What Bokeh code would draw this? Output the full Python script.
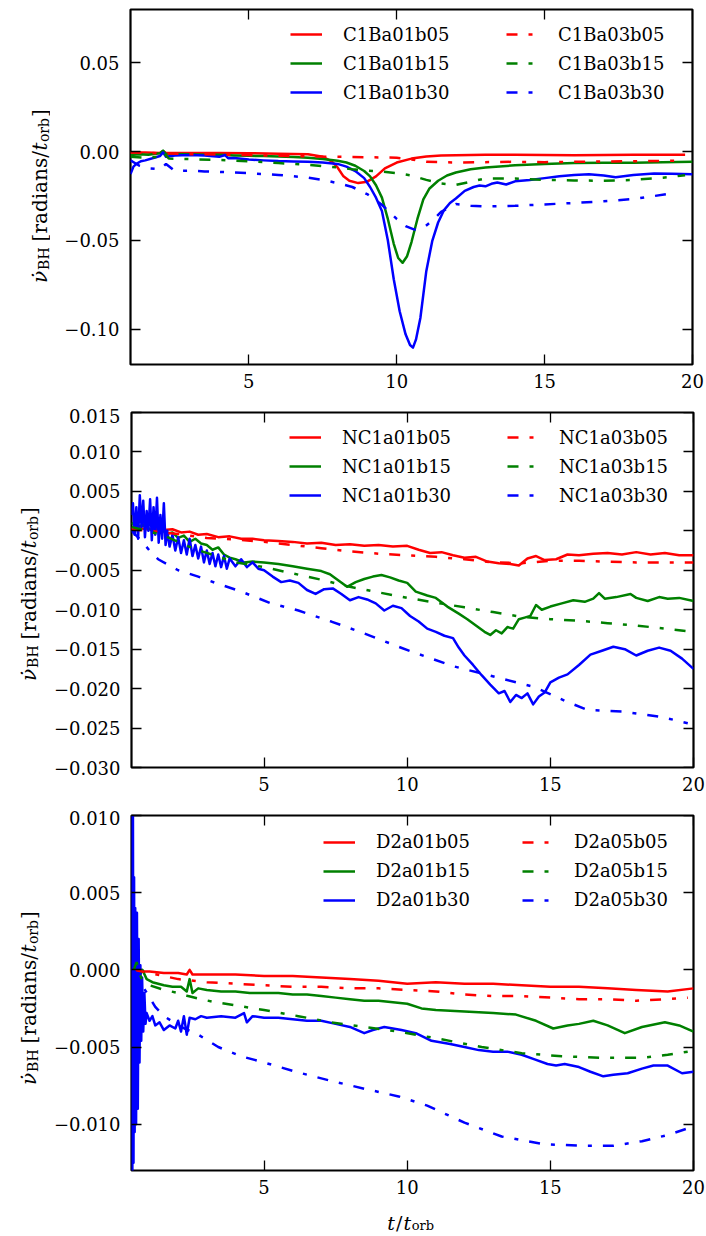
import math
from bokeh.plotting import figure
from bokeh.models import (Range1d, FixedTicker, CustomJSTickFormatter, LinearAxis,
                          Legend, LegendItem)
from bokeh.layouts import column, row
from bokeh.embed import file_html
from bokeh.resources import INLINE
from bokeh.core.properties import value

FONT = "DejaVu Serif"
RED, GREEN, BLUE = "#ff0000", "#008000", "#0000ff"
DASHDOT = "11 11 4 11"

# ---------------------------------------------------------------- data
X_TICKS = [5, 10, 15, 20]
P1_YTICKS = [-0.10, -0.05, 0.00, 0.05]
P2_YTICKS = [-0.030, -0.025, -0.020, -0.015, -0.010, -0.005, 0.000, 0.005, 0.010, 0.015]
P3_YTICKS = [-0.010, -0.005, 0.000, 0.005, 0.010]

# panel 1 : (t/t_orb, rate)
C1Ba01b05 = [(1.0, -0.0005), (1.5, -0.0006), (2.0, -0.0008), (2.1, 0.0002), (2.2, -0.0009),
             (3.0, -0.0008), (4.0, -0.0009), (5.0, -0.0010), (6.0, -0.0012), (7.0, -0.0016),
             (7.5, -0.0030), (7.8, -0.0055), (8.0, -0.0090), (8.2, -0.0140), (8.4, -0.0165),
             (8.7, -0.0178), (9.0, -0.0170), (9.3, -0.0140), (9.6, -0.0095), (10.0, -0.0062),
             (10.5, -0.0040), (11.0, -0.0028), (11.5, -0.0023), (12.0, -0.0021), (13.0, -0.0018),
             (14.0, -0.0019), (15.0, -0.0020), (16.0, -0.0021), (17.0, -0.0020), (18.0, -0.0019),
             (19.0, -0.0018), (19.75, -0.0018)]
C1Ba01b15 = [(1.0, -0.0020), (1.3, -0.0015), (1.6, -0.0018), (2.0, -0.0010), (2.1, 0.0005),
             (2.2, -0.0015), (2.5, -0.0014), (3.0, -0.0016), (3.5, -0.0018), (4.0, -0.0019),
             (4.5, -0.0022), (5.0, -0.0024), (5.5, -0.0026), (6.0, -0.0028), (6.5, -0.0031),
             (7.0, -0.0035), (7.5, -0.0042), (8.0, -0.0052), (8.3, -0.0062), (8.6, -0.0080),
             (8.9, -0.0110), (9.1, -0.0140), (9.3, -0.0190), (9.5, -0.0260), (9.7, -0.0380),
             (9.9, -0.0520), (10.05, -0.0600), (10.2, -0.0627), (10.35, -0.0590), (10.5, -0.0510),
             (10.7, -0.0380), (10.9, -0.0270), (11.1, -0.0210), (11.4, -0.0165), (11.7, -0.0135),
             (12.0, -0.0118), (12.5, -0.0100), (13.0, -0.0090), (14.0, -0.0078), (15.0, -0.0070),
             (16.0, -0.0065), (17.0, -0.0064), (18.0, -0.0063), (19.0, -0.0061), (20.0, -0.0058)]
C1Ba01b30 = [(1.0, -0.0127), (1.1, -0.0085), (1.2, -0.0070), (1.35, -0.0055), (1.5, -0.0050),
             (1.8, -0.0035), (2.0, -0.0025), (2.1, -0.0005), (2.2, -0.0030), (2.5, -0.0022),
             (3.0, -0.0020), (3.5, -0.0022), (4.0, -0.0030), (4.2, -0.0020), (4.3, -0.0038),
             (4.5, -0.0036), (5.0, -0.0045), (5.5, -0.0050), (6.0, -0.0054), (6.5, -0.0056),
             (7.0, -0.0058), (7.5, -0.0062), (8.0, -0.0070), (8.3, -0.0085), (8.6, -0.0110),
             (8.9, -0.0150), (9.1, -0.0200), (9.3, -0.0260), (9.5, -0.0335), (9.7, -0.0500),
             (9.9, -0.0720), (10.1, -0.0900), (10.3, -0.1030), (10.45, -0.1090), (10.55, -0.1105),
             (10.65, -0.1060), (10.8, -0.0938), (11.0, -0.0674), (11.2, -0.0505), (11.4, -0.0400),
             (11.6, -0.0330), (11.8, -0.0290), (12.0, -0.0265), (12.3, -0.0222), (12.6, -0.0200),
             (12.8, -0.0192), (13.0, -0.0196), (13.2, -0.0182), (13.4, -0.0175), (13.7, -0.0186),
             (14.0, -0.0168), (14.5, -0.0160), (15.0, -0.0150), (15.5, -0.0140), (16.0, -0.0133),
             (16.5, -0.0128), (17.0, -0.0135), (17.4, -0.0145), (18.0, -0.0132), (18.7, -0.0124),
             (19.3, -0.0126), (20.0, -0.0128)]
C1Ba03b05 = [(1.0, -0.0005), (2.0, -0.0010), (3.0, -0.0015), (4.0, -0.0017), (5.0, -0.0020),
             (6.0, -0.0024), (7.0, -0.0027), (8.0, -0.0030), (9.0, -0.0032), (10.0, -0.0035),
             (10.5, -0.0045), (11.0, -0.0058), (12.0, -0.0062), (13.0, -0.0060), (14.0, -0.0058),
             (15.0, -0.0060), (16.0, -0.0058), (17.0, -0.0056), (18.0, -0.0055), (19.0, -0.0053),
             (19.75, -0.0050)]
C1Ba03b15 = [(1.0, -0.0030), (1.5, -0.0035), (2.0, -0.0030), (2.1, -0.0005), (2.3, -0.0040),
             (3.0, -0.0043), (4.0, -0.0048), (5.0, -0.0055), (6.0, -0.0065), (7.0, -0.0075),
             (8.0, -0.0090), (8.5, -0.0100), (9.0, -0.0108), (9.5, -0.0113), (10.0, -0.0122),
             (10.5, -0.0135), (11.0, -0.0160), (11.5, -0.0180), (12.0, -0.0188), (12.5, -0.0170),
             (13.0, -0.0152), (14.0, -0.0152), (15.0, -0.0160), (16.0, -0.0163), (17.0, -0.0165),
             (18.0, -0.0160), (19.0, -0.0148), (19.75, -0.0134)]
C1Ba03b30 = [(1.0, -0.0050), (1.3, -0.0080), (1.6, -0.0095), (2.0, -0.0100), (2.2, -0.0070),
             (2.5, -0.0110), (3.0, -0.0108), (3.5, -0.0112), (4.0, -0.0115), (4.5, -0.0118),
             (5.0, -0.0122), (6.0, -0.0132), (7.0, -0.0147), (7.5, -0.0160), (8.0, -0.0178),
             (8.5, -0.0200), (9.0, -0.0240), (9.5, -0.0300), (10.0, -0.0380), (10.3, -0.0420),
             (10.6, -0.0440), (10.9, -0.0430), (11.2, -0.0390), (11.5, -0.0340), (12.0, -0.0296),
             (12.5, -0.0305), (13.0, -0.0310), (14.0, -0.0306), (15.0, -0.0298), (16.0, -0.0290),
             (17.0, -0.0280), (18.0, -0.0268), (19.1, -0.0241)]

# panel 2
NC1a01b05 = [(0.37, 0.0003), (0.6, 0.0004), (0.9, 0.0002), (1.2, 0.0003), (1.5, 0.0001),
             (1.8, 0.0002), (2.1, -0.0002), (2.4, -0.0001), (2.7, -0.0005), (3.0, -0.0004),
             (3.4, -0.0008), (3.8, -0.0007), (4.2, -0.0010), (4.6, -0.0010), (5.0, -0.0012),
             (5.5, -0.0013), (6.0, -0.0014), (6.5, -0.0016), (7.0, -0.0015), (7.5, -0.0018),
             (8.0, -0.0017), (8.5, -0.0019), (9.0, -0.0018), (9.5, -0.0020), (10.0, -0.0019),
             (10.4, -0.0024), (10.8, -0.0028), (11.2, -0.0027), (11.6, -0.0031), (12.0, -0.0034),
             (12.4, -0.0033), (12.8, -0.0039), (13.2, -0.0041), (13.6, -0.0042), (13.9, -0.0044),
             (14.2, -0.0035), (14.5, -0.0032), (14.8, -0.0037), (15.2, -0.0036), (15.6, -0.0030),
             (16.0, -0.0031), (16.5, -0.0029), (17.0, -0.0028), (17.5, -0.0030), (18.0, -0.0027),
             (18.5, -0.0030), (19.0, -0.0028), (19.5, -0.0031), (20.0, -0.0031)]
NC1a01b15 = [(0.37, 0.0010), (0.6, 0.0005), (0.8, 0.0008), (1.0, 0.0002), (1.2, -0.0002),
             (1.4, 0.0003), (1.6, -0.0004), (1.8, -0.0002), (2.0, -0.0009), (2.2, -0.0006),
             (2.4, -0.0014), (2.6, -0.0010), (2.8, -0.0016), (3.0, -0.0018), (3.2, -0.0024),
             (3.4, -0.0021), (3.6, -0.0030), (3.8, -0.0034), (4.0, -0.0036), (4.3, -0.0040),
             (4.6, -0.0039), (5.0, -0.0040), (5.5, -0.0042), (6.0, -0.0045), (6.5, -0.0048),
             (7.0, -0.0051), (7.3, -0.0055), (7.6, -0.0063), (7.9, -0.0071), (8.2, -0.0065),
             (8.5, -0.0061), (8.8, -0.0058), (9.1, -0.0056), (9.4, -0.0059), (9.7, -0.0063),
             (10.0, -0.0066), (10.3, -0.0077), (10.7, -0.0082), (11.0, -0.0085), (11.4, -0.0096),
             (11.8, -0.0105), (12.1, -0.0112), (12.4, -0.0120), (12.7, -0.0128), (12.9, -0.0132),
             (13.1, -0.0126), (13.3, -0.0130), (13.5, -0.0122), (13.7, -0.0124), (13.9, -0.0112),
             (14.1, -0.0110), (14.3, -0.0108), (14.5, -0.0094), (14.7, -0.0100), (15.0, -0.0096),
             (15.4, -0.0092), (15.8, -0.0088), (16.2, -0.0090), (16.5, -0.0086), (16.7, -0.0079),
             (16.9, -0.0086), (17.3, -0.0084), (17.8, -0.0080), (18.0, -0.0085), (18.4, -0.0089),
             (18.8, -0.0084), (19.1, -0.0086), (19.5, -0.0085), (20.0, -0.0089)]
NC1a01b30 = [(0.37, 0.0020), (0.42, 0.0035), (0.48, -0.0005), (0.54, 0.0030), (0.60, -0.0010),
             (0.66, 0.0045), (0.72, 0.0005), (0.78, 0.0038), (0.84, -0.0008), (0.90, 0.0025),
             (0.96, 0.0000), (1.02, 0.0040), (1.08, -0.0012), (1.14, 0.0030), (1.20, -0.0005),
             (1.26, 0.0042), (1.32, -0.0015), (1.38, 0.0020), (1.44, -0.0010), (1.50, 0.0035),
             (1.56, -0.0018), (1.62, 0.0000), (1.7, -0.0020), (1.8, -0.0005), (1.9, -0.0025),
             (2.0, -0.0008), (2.1, -0.0028), (2.2, -0.0012), (2.3, -0.0030), (2.4, -0.0010),
             (2.5, -0.0032), (2.6, -0.0018), (2.7, -0.0035), (2.8, -0.0020), (2.9, -0.0040),
             (3.0, -0.0025), (3.1, -0.0042), (3.2, -0.0028), (3.3, -0.0045), (3.4, -0.0030),
             (3.5, -0.0046), (3.6, -0.0032), (3.7, -0.0048), (3.8, -0.0035), (4.0, -0.0045),
             (4.2, -0.0036), (4.4, -0.0046), (4.6, -0.0040), (4.8, -0.0048), (5.0, -0.0050),
             (5.3, -0.0058), (5.6, -0.0065), (5.9, -0.0063), (6.2, -0.0066), (6.5, -0.0075),
             (6.8, -0.0080), (7.1, -0.0074), (7.4, -0.0073), (7.7, -0.0080), (8.0, -0.0088),
             (8.3, -0.0084), (8.6, -0.0087), (8.9, -0.0092), (9.2, -0.0101), (9.5, -0.0095),
             (9.8, -0.0098), (10.1, -0.0108), (10.4, -0.0115), (10.7, -0.0124), (11.0, -0.0128),
             (11.3, -0.0133), (11.6, -0.0136), (11.8, -0.0148), (12.0, -0.0158), (12.3, -0.0170),
             (12.6, -0.0183), (12.9, -0.0195), (13.2, -0.0206), (13.4, -0.0203), (13.6, -0.0217),
             (13.8, -0.0208), (14.0, -0.0212), (14.2, -0.0206), (14.4, -0.0220), (14.6, -0.0210),
             (14.8, -0.0205), (15.0, -0.0192), (15.3, -0.0186), (15.6, -0.0182), (16.0, -0.0170),
             (16.4, -0.0157), (16.8, -0.0152), (17.2, -0.0147), (17.6, -0.0150), (18.0, -0.0158),
             (18.4, -0.0152), (18.8, -0.0148), (19.2, -0.0152), (19.6, -0.0162), (20.0, -0.0175)]
NC1a03b05 = [(0.37, 0.0002), (1.0, 0.0000), (2.0, -0.0004), (3.0, -0.0009), (4.0, -0.0011),
             (5.0, -0.0014), (6.0, -0.0018), (7.0, -0.0022), (8.0, -0.0026), (9.0, -0.0029),
             (10.0, -0.0031), (11.0, -0.0033), (12.0, -0.0036), (13.0, -0.0040), (14.0, -0.0041),
             (15.0, -0.0038), (16.0, -0.0038), (17.0, -0.0039), (18.0, -0.0040), (19.0, -0.0040),
             (20.0, -0.0040)]
NC1a03b15 = [(0.37, 0.0005), (1.0, -0.0001), (1.5, -0.0006), (2.0, -0.0014), (2.5, -0.0022),
             (3.0, -0.0028), (3.5, -0.0034), (4.0, -0.0040), (5.0, -0.0046), (6.0, -0.0054),
             (7.0, -0.0062), (8.0, -0.0071), (9.0, -0.0078), (10.0, -0.0085), (11.0, -0.0091),
             (12.0, -0.0097), (13.0, -0.0103), (14.0, -0.0109), (15.0, -0.0112), (16.0, -0.0114),
             (17.0, -0.0117), (18.0, -0.0120), (19.0, -0.0124), (20.0, -0.0128)]
NC1a03b30 = [(0.37, 0.0000), (0.7, -0.0012), (1.0, -0.0025), (1.3, -0.0036), (1.6, -0.0042),
             (2.0, -0.0050), (2.7, -0.0058), (3.3, -0.0066), (4.2, -0.0077), (5.25, -0.0092),
             (6.2, -0.0101), (7.35, -0.0115), (8.5, -0.0130), (9.7, -0.0147), (10.3, -0.0155),
             (11.65, -0.0172), (13.05, -0.0185), (14.45, -0.0198), (15.6, -0.0217), (16.3, -0.0227),
             (17.5, -0.0229), (18.9, -0.0236), (19.8, -0.0244)]

# panel 3
D2a01b05 = [(0.45, -0.0001), (0.6, 0.0001), (0.8, -0.0001), (1.0, -0.0001), (1.5, -0.0002),
            (2.0, -0.0002), (2.3, -0.0003), (2.4, 0.0000), (2.5, -0.0003), (3.0, -0.0003),
            (4.0, -0.0003), (5.0, -0.0004), (6.0, -0.0004), (7.0, -0.0005), (8.0, -0.0006),
            (9.0, -0.0007), (10.0, -0.0009), (11.0, -0.0008), (12.0, -0.0009), (13.0, -0.0009),
            (14.0, -0.0010), (15.0, -0.0011), (16.0, -0.0011), (17.0, -0.0012), (18.0, -0.0013),
            (19.1, -0.0014), (20.0, -0.0012)]
D2a01b15 = [(0.45, 0.0000), (0.55, 0.0005), (0.65, -0.0004), (0.75, 0.0000), (0.9, -0.0006),
            (1.1, -0.0008), (1.3, -0.0009), (1.5, -0.0010), (1.8, -0.0011), (2.1, -0.0011),
            (2.3, -0.0014), (2.4, -0.0006), (2.5, -0.0015), (2.7, -0.0012), (3.0, -0.0013),
            (3.5, -0.0014), (4.0, -0.0014), (4.5, -0.0015), (5.0, -0.0015), (5.5, -0.0015),
            (6.0, -0.0016), (6.5, -0.0016), (7.0, -0.0017), (7.5, -0.0018), (8.0, -0.0019),
            (8.5, -0.0020), (9.0, -0.0020), (9.5, -0.0021), (10.0, -0.0022), (10.5, -0.0025),
            (11.0, -0.0026), (12.0, -0.0027), (13.0, -0.0028), (13.8, -0.0029), (14.5, -0.0033),
            (15.1, -0.0038), (15.6, -0.0036), (16.0, -0.0035), (16.5, -0.0033), (17.0, -0.0036),
            (17.6, -0.0041), (18.2, -0.0037), (19.0, -0.0034), (19.5, -0.0036), (20.0, -0.0040)]
D2a01b30 = [(0.38, 0.0110), (0.40, -0.0135), (0.42, 0.0105), (0.44, -0.0125), (0.46, 0.0060),
            (0.48, -0.0105), (0.50, 0.0040), (0.53, -0.0100), (0.56, 0.0037), (0.59, -0.0090),
            (0.62, 0.0020), (0.65, -0.0060), (0.68, 0.0003), (0.71, -0.0046), (0.74, -0.0005),
            (0.78, -0.0040), (0.82, -0.0015), (0.86, -0.0035), (0.9, -0.0028), (1.0, -0.0033),
            (1.1, -0.0030), (1.2, -0.0036), (1.35, -0.0034), (1.5, -0.0039), (1.7, -0.0036),
            (1.9, -0.0038), (2.0, -0.0033), (2.1, -0.0040), (2.2, -0.0030), (2.3, -0.0042),
            (2.4, -0.0031), (2.6, -0.0032), (2.8, -0.0030), (3.0, -0.0031), (3.5, -0.0030),
            (4.0, -0.0031), (4.3, -0.0028), (4.4, -0.0034), (4.6, -0.0030), (5.0, -0.0031),
            (5.5, -0.0031), (6.0, -0.0032), (6.5, -0.0033), (7.0, -0.0033), (7.5, -0.0035),
            (8.0, -0.0037), (8.5, -0.0041), (8.8, -0.0039), (9.2, -0.0037), (9.8, -0.0039),
            (10.3, -0.0041), (10.85, -0.0046), (11.5, -0.0048), (12.0, -0.0050), (12.5, -0.0052),
            (13.0, -0.0053), (13.5, -0.0053), (14.0, -0.0055), (14.45, -0.0058), (14.9, -0.0061),
            (15.2, -0.0062), (15.5, -0.0061), (16.0, -0.0063), (16.4, -0.0066), (16.85, -0.0069),
            (17.2, -0.0068), (17.7, -0.0067), (18.2, -0.0064), (18.6, -0.0062), (19.1, -0.0062),
            (19.6, -0.0067), (20.0, -0.0066)]
D2a05b05 = [(0.45, 0.0000), (1.0, -0.0002), (2.0, -0.0006), (3.0, -0.0008), (4.0, -0.0009),
            (5.0, -0.0010), (6.0, -0.0011), (7.0, -0.0011), (8.0, -0.0012), (9.0, -0.0012),
            (10.0, -0.0013), (11.0, -0.0014), (12.0, -0.0016), (13.0, -0.0017), (14.0, -0.0017),
            (15.0, -0.0018), (16.0, -0.0019), (17.0, -0.0019), (18.0, -0.0020), (19.0, -0.0019),
            (19.8, -0.0018)]
D2a05b15 = [(0.45, 0.0000), (0.55, 0.0005), (0.7, -0.0005), (1.0, -0.0010), (1.5, -0.0013),
            (2.0, -0.0015), (2.35, -0.0017), (2.8, -0.0019), (3.3, -0.0021), (4.0, -0.0023),
            (5.0, -0.0026), (6.2, -0.0030), (7.35, -0.0034), (8.5, -0.0037), (9.7, -0.0040),
            (11.2, -0.0045), (12.6, -0.0050), (14.0, -0.0054), (15.4, -0.0056), (16.8, -0.0057),
            (18.2, -0.0057), (19.1, -0.0055), (19.8, -0.0053)]
D2a05b30 = [(0.45, 0.0000), (0.6, -0.0005), (0.84, -0.0013), (1.2, -0.0024), (1.5, -0.0030),
            (2.1, -0.0037), (2.7, -0.0042), (3.4, -0.0050), (4.2, -0.0056), (5.0, -0.0060),
            (6.1, -0.0066), (7.35, -0.0072), (8.5, -0.0077), (9.7, -0.0082), (10.7, -0.0088),
            (12.0, -0.0099), (13.3, -0.0108), (14.8, -0.0113), (16.2, -0.0114), (17.2, -0.0114),
            (18.2, -0.0111), (19.1, -0.0107), (19.75, -0.0103)]

PANELS = [
    dict(xr=(1.0, 20.0), yr=(-0.12, 0.08), yticks=P1_YTICKS, dec=2,
         solid=[("C1Ba01b05", C1Ba01b05), ("C1Ba01b15", C1Ba01b15), ("C1Ba01b30", C1Ba01b30)],
         dashed=[("C1Ba03b05", C1Ba03b05), ("C1Ba03b15", C1Ba03b15), ("C1Ba03b30", C1Ba03b30)],
         leg1=160, leg2=376, legtop=12.3, top=9, bottom=44, ylab_x=39),
    dict(xr=(0.37, 20.0), yr=(-0.030, 0.015), yticks=P2_YTICKS, dec=3,
         solid=[("NC1a01b05", NC1a01b05), ("NC1a01b15", NC1a01b15), ("NC1a01b30", NC1a01b30)],
         dashed=[("NC1a03b05", NC1a03b05), ("NC1a03b15", NC1a03b15), ("NC1a03b30", NC1a03b30)],
         leg1=158, leg2=376, legtop=12.3, top=4, bottom=43, ylab_x=28),
    dict(xr=(0.37, 20.0), yr=(-0.013, 0.010), yticks=P3_YTICKS, dec=3,
         solid=[("D2a01b05", D2a01b05), ("D2a01b15", D2a01b15), ("D2a01b30", D2a01b30)],
         dashed=[("D2a05b05", D2a05b05), ("D2a05b15", D2a05b15), ("D2a05b30", D2a05b30)],
         leg1=192, leg2=391, legtop=13.7, top=5, bottom=34, ylab_x=28),
]
COLORS = [RED, GREEN, BLUE]

FW, FH = 562, 355
LAB_W = 50          # width of the strip holding the rotated y label
LEFT = 130 - LAB_W  # remaining left border of each panel
RIGHT = 12
XLAB_H = 32


def unzip(pairs):
    return [a for a, _ in pairs], [b for _, b in pairs]


def style_axis(ax):
    ax.axis_line_color = None
    ax.major_tick_in = 10
    ax.major_tick_out = 0
    ax.major_tick_line_color = "black"
    ax.major_tick_line_width = 1.3
    ax.minor_tick_line_color = None
    ax.major_label_text_font = FONT
    ax.major_label_text_font_size = "18px"
    ax.major_label_text_color = "black"


def text_strip(width, height):
    """an axis-less figure whose frame is the whole canvas; data units == pixels"""
    f = figure(frame_width=width, frame_height=height,
               x_range=Range1d(0, width), y_range=Range1d(0, height),
               min_border=0, x_axis_type=None, y_axis_type=None,
               output_backend="svg", toolbar_location=None, tools="")
    f.outline_line_color = None
    f.background_fill_color = "white"
    f.border_fill_color = "white"
    f.grid.visible = False
    f.title.visible = False
    return f


def put_text(f, x, y, text, size, style, angle=0.0):
    f.text(x=[x], y=[y], text=[text], angle=angle,
           text_font=value(FONT), text_font_size=value(f"{size}px"),
           text_font_style=style, text_align="left", text_baseline="alphabetic",
           text_color="black")


def ylabel_strip(cfg, height):
    f = text_strip(LAB_W, height)
    bx = cfg["ylab_x"]
    main, sub = 20, 14
    pieces = [("\u03bd\u0307", main, "italic", 0, 13.0),
              ("BH", sub, "normal", 4, 28.5),
              ("[radians/", main, "normal", 0, 91.0),
              ("t", main, "italic", 0, 8.3),
              ("orb", sub, "normal", 4, 25.0),
              ("]", main, "normal", 0, 8.0)]
    total = sum(w for *_, w in pieces)
    y = cfg["bottom"] + FH / 2 - total / 2
    for text, size, style, dx, w in pieces:
        put_text(f, bx + dx, y, text, size, style, angle=math.pi / 2)
        y += w
    return f


def xlabel_strip(width):
    f = text_strip(width, XLAB_H)
    pieces = [("t", 19, "italic", 0, 8.6), ("/", 19, "normal", 0, 7.6),
              ("t", 19, "italic", 0, 8.1), ("orb", 13, "normal", -3, 24.0)]
    total = sum(w for *_, w in pieces)
    x = 130 + FW / 2 - total / 2
    for text, size, style, dy, w in pieces:
        put_text(f, x, 14 + dy, text, size, style)
        x += w
    return f


def make_panel(cfg):
    p = figure(frame_width=FW, frame_height=FH,
               min_border_left=LEFT, min_border_right=RIGHT,
               min_border_top=cfg["top"], min_border_bottom=cfg["bottom"],
               x_range=Range1d(*cfg["xr"]), y_range=Range1d(*cfg["yr"]),
               output_backend="svg", toolbar_location=None, tools="")
    p.xgrid.visible = False
    p.ygrid.visible = False
    p.title.visible = False
    p.outline_line_color = "black"
    p.outline_line_width = 2.2
    p.outline_line_alpha = 1.0
    p.background_fill_color = "white"
    p.border_fill_color = "white"

    xa, ya = p.xaxis[0], p.yaxis[0]
    xa.ticker = FixedTicker(ticks=X_TICKS)
    ya.ticker = FixedTicker(ticks=cfg["yticks"])
    ya.formatter = CustomJSTickFormatter(
        code="var s = Math.abs(tick).toFixed(%d); return (tick < -1e-9 ? '\u2212' : '') + s;" % cfg["dec"])
    style_axis(xa)
    style_axis(ya)
    xa.major_label_standoff = 9
    ya.major_label_standoff = 11

    # tick-only copies of the axes on the top and right edges of the frame
    empty = CustomJSTickFormatter(code="return '';")
    top_ax = LinearAxis(ticker=FixedTicker(ticks=X_TICKS), formatter=empty,
                        fixed_location=cfg["yr"][1])
    right_ax = LinearAxis(ticker=FixedTicker(ticks=cfg["yticks"]), formatter=empty,
                          fixed_location=cfg["xr"][1])
    for ax in (top_ax, right_ax):
        style_axis(ax)
        ax.major_label_text_color = None
        ax.major_label_text_font_size = "1px"
        ax.major_label_standoff = 0
    p.add_layout(top_ax, "above")
    p.add_layout(right_ax, "right")

    items1, items2 = [], []
    for (name, data), c in zip(cfg["solid"], COLORS):
        xs, ys = unzip(data)
        r = p.line(xs, ys, line_color=c, line_width=2.5, line_join="round")
        items1.append(LegendItem(label=name, renderers=[r]))
    for (name, data), c in zip(cfg["dashed"], COLORS):
        xs, ys = unzip(data)
        r = p.line(xs, ys, line_color=c, line_width=2.5, line_dash=DASHDOT)
        items2.append(LegendItem(label=name, renderers=[r]))

    leg_h = 3 * 26 + 2 * 3
    for items, lx, gw, so in ((items1, cfg["leg1"], 32, 21), (items2, cfg["leg2"], 27, 25)):
        leg = Legend(items=items, location=(lx, FH - cfg["legtop"] - leg_h),
                     orientation="vertical", padding=0, margin=0, spacing=3,
                     glyph_width=gw, glyph_height=26, label_height=26, label_standoff=so,
                     label_text_font=FONT, label_text_font_size="18px",
                     label_text_color="black", border_line_color=None,
                     background_fill_alpha=0)
        p.add_layout(leg)

    height = cfg["top"] + FH + cfg["bottom"]
    return row(ylabel_strip(cfg, height), p, spacing=0)


rows = [make_panel(c) for c in PANELS]
rows.append(xlabel_strip(130 + FW + RIGHT))
layout = column(*rows, spacing=0)
open("out.html", "w").write(file_html(layout, INLINE))
